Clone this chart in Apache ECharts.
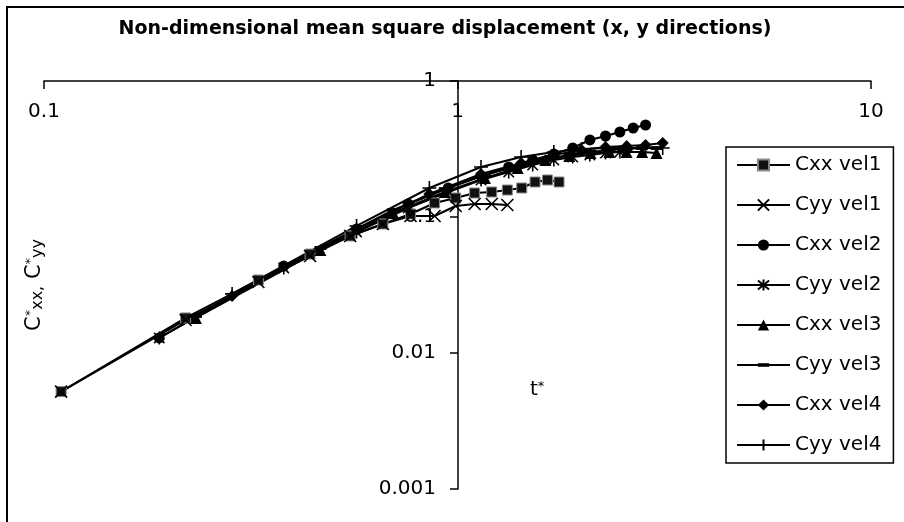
<!DOCTYPE html>
<html>
<head>
<meta charset="utf-8">
<title>Non-dimensional mean square displacement</title>
<script src="https://cdn.jsdelivr.net/npm/echarts@6/dist/echarts.min.js"></script>
<style>
  html, body { margin: 0; padding: 0; background: #fff; }
  #chart { width: 904px; height: 522px; }
</style>
</head>
<body>
<div id="chart"></div>
<script>
// non-dimensional time t* for each velocity
const tVel1 = [0.11, 0.22, 0.33, 0.44, 0.55, 0.66, 0.77, 0.88, 0.99, 1.10, 1.21, 1.32, 1.43, 1.54, 1.65, 1.76];
const tVel2 = [0.19, 0.38, 0.57, 0.76, 0.95, 1.14, 1.33, 1.52, 1.71, 1.90, 2.09, 2.28, 2.47, 2.66, 2.85];
const tVel3 = [0.233, 0.466, 0.699, 0.932, 1.165, 1.398, 1.631, 1.864, 2.097, 2.33, 2.563, 2.796, 3.029];
const tVel4 = [0.285, 0.57, 0.855, 1.14, 1.425, 1.71, 1.995, 2.28, 2.565, 2.85, 3.135];

// C*xx / C*yy values
const cxxVel1 = [0.0052, 0.0181, 0.0344, 0.0534, 0.0725, 0.0888, 0.1052, 0.1268, 0.1379, 0.1501, 0.1527, 0.1579, 0.1634, 0.1809, 0.1871, 0.1809];
const cyyVel1 = [0.0052, 0.0175, 0.0333, 0.0517, 0.0725, 0.0888, 0.1017, 0.1017, 0.1205, 0.1247, 0.1247, 0.1225];
const cxxVel2 = [0.0129, 0.0436, 0.0816, 0.1247, 0.1634, 0.2002, 0.2332, 0.2625, 0.2906, 0.3216, 0.3684, 0.3940, 0.4217, 0.4512, 0.4747];
const cyyVel2 = [0.0129, 0.0422, 0.0776, 0.1165, 0.1527, 0.1871, 0.2142, 0.2412, 0.2625, 0.2762, 0.2857, 0.2955, 0.3006];
const cxxVel3 = [0.0181, 0.0572, 0.1070, 0.1527, 0.1935, 0.2293, 0.2625, 0.2809, 0.2955, 0.3006, 0.3006, 0.3006, 0.2955];
const cyyVel3 = [0.0187, 0.0592, 0.1126, 0.1606, 0.2037, 0.2371, 0.2670, 0.2857, 0.3006, 0.3110, 0.3162, 0.3216, 0.3216];
const cxxVel4 = [0.0263, 0.0816, 0.1476, 0.2072, 0.2495, 0.2857, 0.3110, 0.3271, 0.3327, 0.3384, 0.3500];
const cyyVel4 = [0.0272, 0.0859, 0.1634, 0.2332, 0.2762, 0.3006, 0.3162, 0.3216, 0.3216, 0.3216, 0.3216];

const seriesNames = ['Cxx vel1', 'Cyy vel1', 'Cxx vel2', 'Cyy vel2', 'Cxx vel3', 'Cyy vel3', 'Cxx vel4', 'Cyy vel4'];

const FONT = "'DejaVu Sans', sans-serif";

// marker shapes (Excel style)
const SYM_X = 'path://M0,0L10,10M10,0L0,10';
const SYM_STAR = 'path://M1,1L9,9M9,1L1,9M5,0L5,10';
const SYM_PLUS = 'path://M5,0L5,10M0,5L10,5';
const SYM_DASH = 'path://M0,0M0,3.4L10,3.4L10,6.6L0,6.6ZM0,10';

const defs = [
    { t: tVel1, c: cxxVel1, symbol: 'rect', size: 10, item: { color: '#111', borderColor: '#8a8a8a', borderWidth: 1 } },
    { t: tVel1, c: cyyVel1, symbol: SYM_X, size: 12, item: { color: '#000', borderColor: '#000', borderWidth: 1.6 } },
    { t: tVel2, c: cxxVel2, symbol: 'circle', size: 11, item: { color: '#000' } },
    { t: tVel2, c: cyyVel2, symbol: SYM_STAR, size: 13, item: { color: '#000', borderColor: '#000', borderWidth: 1.6 } },
    { t: tVel3, c: cxxVel3, symbol: 'triangle', size: 12, item: { color: '#000' } },
    { t: tVel3, c: cyyVel3, symbol: SYM_DASH, size: 12, item: { color: '#000' } },
    { t: tVel4, c: cxxVel4, symbol: 'diamond', size: 12, item: { color: '#000' } },
    { t: tVel4, c: cyyVel4, symbol: SYM_PLUS, size: 14, item: { color: '#000', borderColor: '#000', borderWidth: 1.6 } }
];

const chart = echarts.init(document.getElementById('chart'), null, { renderer: 'canvas' });

const option = {
    animation: false,
    backgroundColor: '#fff',
    title: {
        text: 'Non-dimensional mean square displacement (x, y directions)',
        left: 445,
        top: 20,
        textAlign: 'center',
        padding: 0,
        textStyle: { fontFamily: FONT, fontSize: 19, fontWeight: 'bold', color: '#000' }
    },
    legend: {
        orient: 'vertical',
        left: 726,
        top: 147,
        padding: [6, 12, 6, 10],
        itemWidth: 53,
        itemHeight: 14,
        itemGap: 16,
        borderColor: '#000',
        borderWidth: 1.5,
        textStyle: { fontFamily: FONT, fontSize: 20, color: '#000', lineHeight: 24 },
        data: seriesNames
    },
    grid: { left: 44, right: 33, top: 81, bottom: 33 },
    xAxis: {
        type: 'log',
        logBase: 10,
        min: 0.1,
        max: 10,
        position: 'top',
        axisLine: { lineStyle: { color: '#000', width: 1.5 } },
        axisTick: { inside: true, length: 8, lineStyle: { color: '#000', width: 1.5 } },
        axisLabel: { inside: true, margin: 21, fontFamily: FONT, fontSize: 20, color: '#000' },
        splitLine: { show: false },
        minorTick: { show: false }
    },
    yAxis: {
        type: 'log',
        logBase: 10,
        min: 0.001,
        max: 1,
        position: 'left',
        offset: -414, // vertical axis crosses at t* = 1
        axisLine: { lineStyle: { color: '#000', width: 1.5 } },
        axisTick: { length: 8, lineStyle: { color: '#000', width: 1.5 } },
        axisLabel: { margin: 22, fontFamily: FONT, fontSize: 20, color: '#000' },
        splitLine: { show: false }
    },
    series: defs.map((d, i) => ({
        name: seriesNames[i],
        type: 'line',
        data: d.t.map((t, k) => [t, d.c[k]]),
        symbol: d.symbol,
        symbolSize: d.size,
        symbolKeepAspect: true,
        showSymbol: true,
        lineStyle: { color: '#000', width: 2 },
        itemStyle: d.item,
        emphasis: { disabled: true }
    })),
    graphic: [
        {
            type: 'rect',
            silent: true,
            z: -10,
            shape: { x: 7, y: 7, width: 930, height: 540 },
            style: { fill: 'none', stroke: '#000', lineWidth: 2 }
        },
        {
            type: 'text',
            x: 35,
            y: 285,
            rotation: Math.PI / 2,
            style: {
                text: '{b|C}{s|*}{u|xx,}{b| C}{s|*}{u|yy}',
                align: 'center',
                verticalAlign: 'middle',
                rich: {
                    b: { fontFamily: FONT, fontSize: 21, fill: '#000' },
                    s: { fontFamily: FONT, fontSize: 13, fill: '#000', verticalAlign: 'top' },
                    u: { fontFamily: FONT, fontSize: 16, fill: '#000', verticalAlign: 'bottom' }
                }
            }
        },
        {
            type: 'text',
            x: 530,
            y: 390,
            style: {
                text: '{b|t}{s|*}',
                verticalAlign: 'middle',
                rich: {
                    b: { fontFamily: FONT, fontSize: 20, fill: '#000' },
                    s: { fontFamily: FONT, fontSize: 13, fill: '#000', verticalAlign: 'top' }
                }
            }
        }
    ]
};

chart.setOption(option);
</script>
</body>
</html>
